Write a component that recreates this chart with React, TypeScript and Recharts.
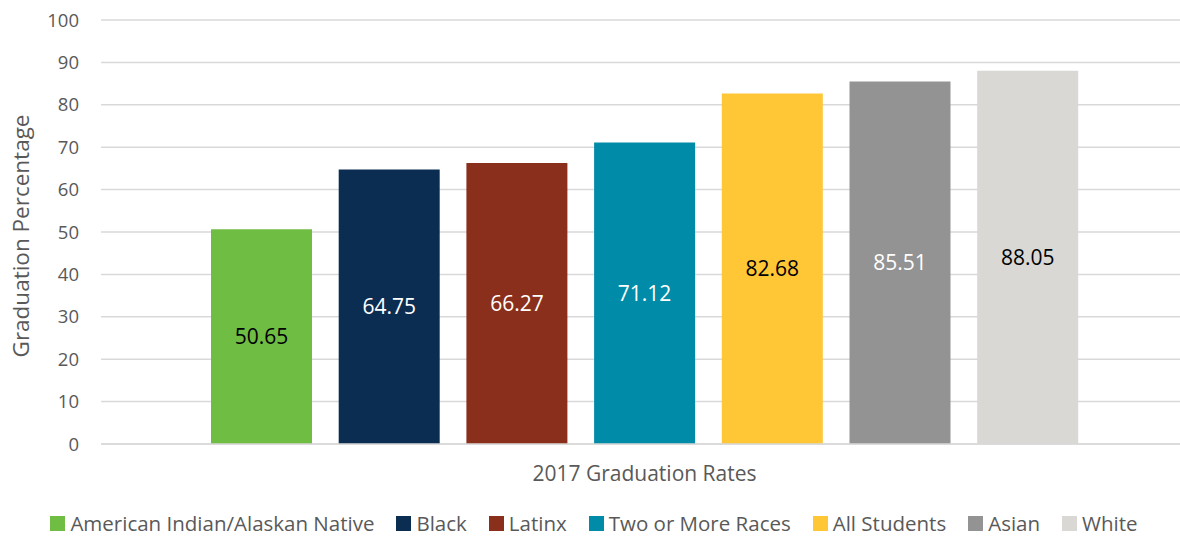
import { Bar, BarChart, CartesianGrid, LabelList, Legend, XAxis, YAxis, Label } from 'recharts';

const CATEGORY = '2017 Graduation Rates';
const SERIES = ['American Indian/Alaskan Native', 'Black', 'Latinx', 'Two or More Races', 'All Students', 'Asian', 'White'];
const VALUES = [50.65, 64.75, 66.27, 71.12, 82.68, 85.51, 88.05];
const COLORS = ['#70bd44', '#0c2d52', '#8a2f1c', '#008ca8', '#ffc636', '#939393', '#d9d8d5'];
const LABEL_COLORS = ['#000000', '#ffffff', '#ffffff', '#ffffff', '#000000', '#ffffff', '#000000'];
const Y_TICKS = [0, 10, 20, 30, 40, 50, 60, 70, 80, 90, 100];

const FONT = '"Open Sans", sans-serif';
const TEXT = '#595959';

const row: Record<string, string | number> = { name: CATEGORY };
SERIES.forEach((s, i) => {
  row[`s${i}`] = VALUES[i];
});
const data = [row];

function LegendBox() {
  return (
    <div
      style={{
        display: 'flex',
        justifyContent: 'center',
        alignItems: 'center',
        paddingTop: 19,
        height: 20,
        lineHeight: '20px',
        fontFamily: FONT,
        fontSize: 20.5,
        color: TEXT,
        gap: 22,
        whiteSpace: 'nowrap',
      }}
    >
      {SERIES.map((s, i) => (
        <div key={s} style={{ display: 'flex', alignItems: 'center', height: 20 }}>
          <span style={{ width: 15, height: 15, background: COLORS[i], marginRight: 5, display: 'inline-block' }} />
          <span>{s}</span>
        </div>
      ))}
    </div>
  );
}

export default function App() {
  return (
    <div style={{ position: 'absolute', left: 0, top: 0, width: 1180, height: 539, overflow: 'hidden', background: '#fff' }}>
      <BarChart width={1188} height={539} data={data} margin={{ top: 20, right: 0, bottom: 0, left: 0 }} barGap={26.7}>
        <CartesianGrid vertical={false} stroke="#d9d9d9" strokeWidth={1.5} />
        <XAxis
          dataKey="name"
          height={50}
          axisLine={{ stroke: '#d9d9d9', strokeWidth: 1.5 }}
          tickLine={false}
          tickSize={0}
          tickMargin={22}
          tick={{ fill: TEXT, fontSize: 21, fontFamily: FONT }}
        />
        <YAxis
          width={101}
          domain={[0, 100]}
          ticks={Y_TICKS}
          axisLine={false}
          tickLine={false}
          tickSize={0}
          tickMargin={22}
          tick={{ fill: TEXT, fontSize: 18.5, fontFamily: FONT }}
        >
          <Label
            content={({ viewBox }: any) => {
              const cy = viewBox.y + viewBox.height / 2 + 4;
              return (
                <text
                  x={20}
                  y={cy}
                  transform={`rotate(-90 20 ${cy})`}
                  textAnchor="middle"
                  dominantBaseline="central"
                  fill={TEXT}
                  fontSize={22.5}
                  fontFamily={FONT}
                >
                  Graduation Percentage
                </text>
              );
            }}
          />
        </YAxis>
        <Legend verticalAlign="bottom" height={45} content={<LegendBox />} />
        {SERIES.map((s, i) => (
          <Bar key={s} dataKey={`s${i}`} name={s} fill={COLORS[i]} barSize={101} isAnimationActive={false}>
            <LabelList dataKey={`s${i}`} position="center" fill={LABEL_COLORS[i]} fontSize={21} fontFamily={FONT} />
          </Bar>
        ))}
      </BarChart>
    </div>
  );
}
